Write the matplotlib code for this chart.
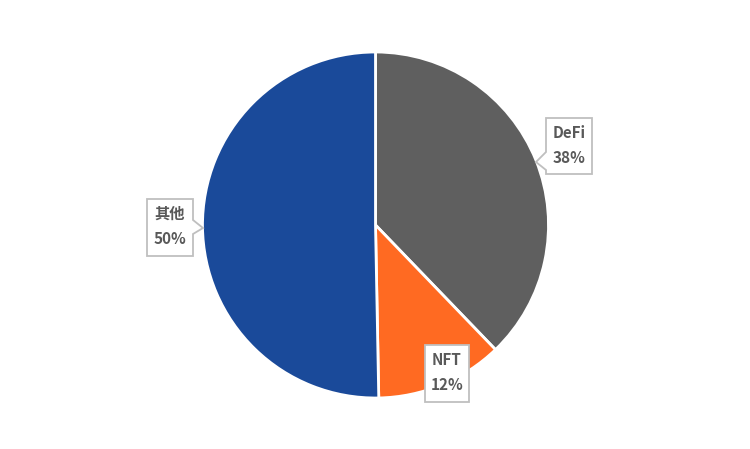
import matplotlib
matplotlib.use("Agg")
import matplotlib.pyplot as plt
from matplotlib.patches import Polygon

plt.rcParams['font.family'] = ['Noto Sans CJK SC', 'DejaVu Sans']

categories = ["DeFi", "NFT", "其他"]
values = [37.8, 11.9, 50.3]
colors = ["#5F5F5F", "#FF6A22", "#1A4A9A"]

W, H = 750, 449
fig = plt.figure(figsize=(W / 100, H / 100), dpi=100)
ax = fig.add_axes([0, 0, 1, 1])

def Y(y):
    return H - y

ax.pie(values, colors=colors, startangle=90, counterclock=False,
       center=(375.5, Y(225)), radius=173,
       wedgeprops=dict(edgecolor="white", linewidth=2))
ax.set_xlim(0, W)
ax.set_ylim(0, H)
ax.set_aspect("auto")
ax.axis("off")

# callout boxes: (left, top, right, bottom, pointer)
boxes = [
    (546, 118, 592, 174, [(546, 152), (536, 162), (546, 170)], "left"),
    (425, 345, 469, 402, None, None),
    (147, 199, 193, 256, [(193, 220), (203, 228), (193, 234)], "right"),
]
order = [0, 1, 2]
total = sum(values)
for (l, t, r, b, ptr, side), i in zip(boxes, order):
    if ptr is None:
        pts = [(l, t), (r, t), (r, b), (l, b)]
    elif side == "left":
        pts = [(l, t), (r, t), (r, b), (l, b), ptr[2], ptr[1], ptr[0]]
    else:
        pts = [(l, t), (r, t), ptr[0], ptr[1], ptr[2], (r, b), (l, b)]
    poly = Polygon([(x, Y(y)) for x, y in pts], closed=True,
                   facecolor="white", edgecolor="#BFBFBF", linewidth=1.3, zorder=5)
    ax.add_patch(poly)
    cx = (l + r) / 2
    pct = round(values[i] / total * 100)
    ax.text(cx, Y(t + 15), categories[i], ha="center", va="center",
            fontsize=11, fontweight="bold", color="#595959", zorder=6)
    ax.text(cx, Y(t + 40), f"{pct}%", ha="center", va="center",
            fontsize=11, fontweight="bold", color="#595959", zorder=6)

fig.savefig("out.png", dpi=100, facecolor="white")
